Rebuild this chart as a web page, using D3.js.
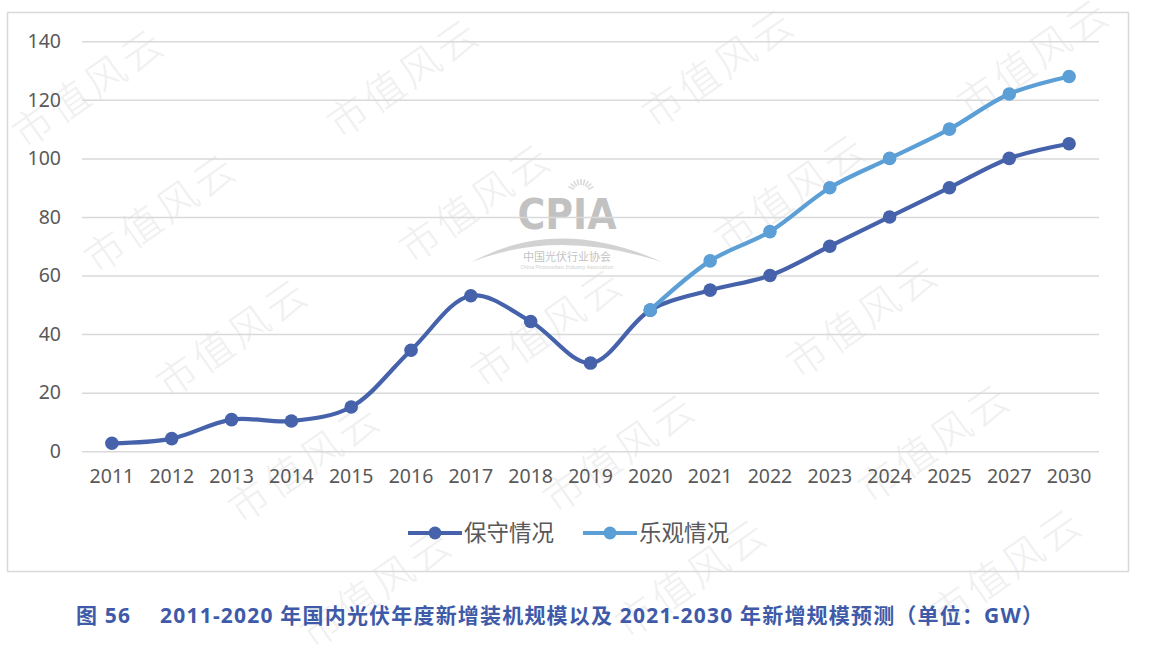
<!DOCTYPE html>
<html><head><meta charset="utf-8">
<script src="https://cdn.jsdelivr.net/npm/d3@7"></script>
<style>
html,body{margin:0;padding:0;background:#fff;}
svg{display:block;}
</style></head>
<body>
<svg id="chart" width="1153" height="654"></svg>
<script>
const years = ["2011","2012","2013","2014","2015","2016","2017","2018","2019","2020","2021","2022","2023","2024","2025","2027","2030"];
const conservative = [2.7,4.3,10.8,10.3,15.1,34.5,53.1,44.3,30.1,48.2,55,60,70,80,90,100,105];
const optimistic = [null,null,null,null,null,null,null,null,null,48.2,65,75,90,100,110,122,128];
const yTicks = [0,20,40,60,80,100,120,140];
const seriesNames = ["保守情况","乐观情况"];
const titleText = "图 56　 2011-2020 年国内光伏年度新增装机规模以及 2021-2030 年新增规模预测（单位：GW）";
const watermarkText = "市值风云";

const colors = ["#4562AB","#5B9FD6"];
const svg = d3.select("#chart");
const font = "'Noto Sans','Noto Sans CJK SC',sans-serif";
const cjk = "'Noto Sans CJK SC',sans-serif";

// watermark layer (only fully visible copies)
const wm = svg.append("g").attr("class","watermark");
for (let i=-2;i<5;i++){
  for (let j=-1;j<6;j++){
    const px = 25 + i*315 + j*72;
    const py = 150 - i*10 + j*125;
    if (px < 5 || px > 990 || py < 120 || py > 650) continue;
    wm.append("text").attr("x",px).attr("y",py)
      .attr("transform",`rotate(-35 ${px} ${py})`)
      .attr("font-family",cjk).attr("font-weight",300)
      .attr("font-size",40).attr("fill","#f0f0f0").attr("letter-spacing",4)
      .text(watermarkText);
  }
}

// chart frame
svg.append("rect").attr("x",7.5).attr("y",12.5).attr("width",1121).attr("height",559)
  .attr("fill","none").attr("stroke","#d9d9d9").attr("stroke-width",1.5);

const plotL = 82, plotR = 1099, plotT = 41.3, plotB = 451.2;
const x = d3.scaleBand().domain(years).range([plotL,plotR]).paddingInner(0).paddingOuter(0);
const y = d3.scaleLinear().domain([0,140]).range([plotB,plotT]);
const cx = d => x(d) + x.bandwidth()/2;

// CPIA logo (faint)
const logo = svg.append("g").attr("opacity",0.6);
const lx = 567;
for (let k=0;k<9;k++){
  const a = -Math.PI*(0.15 + k*0.0875);
  logo.append("line").attr("x1",lx+14+Math.cos(a)*8).attr("y1",193+Math.sin(a)*8)
    .attr("x2",lx+14+Math.cos(a)*14).attr("y2",193+Math.sin(a)*14)
    .attr("stroke","#bdbdbd").attr("stroke-width",1.5);
}
logo.append("text").attr("x",lx).attr("y",229).attr("text-anchor","middle")
  .attr("font-family","'DejaVu Sans Condensed','DejaVu Sans',sans-serif").attr("font-weight","bold")
  .attr("font-size",42).attr("fill","#9a9a9a").attr("textLength",99).attr("lengthAdjust","spacingAndGlyphs").text("CPIA");
logo.append("path").attr("d",`M${lx-95},262 Q${lx-10},215 ${lx+95},262 Q${lx-10},228 ${lx-95},262Z`)
  .attr("fill","#b5b5b5");
logo.append("text").attr("x",lx).attr("y",261).attr("text-anchor","middle")
  .attr("font-family",cjk).attr("font-size",11).attr("fill","#9a9a9a").text("中国光伏行业协会");
logo.append("text").attr("x",lx).attr("y",269).attr("text-anchor","middle")
  .attr("font-family",font).attr("font-size",5).attr("fill","#b0b0b0").text("China Photovoltaic Industry Association");

// y axis + gridlines
const yAxis = d3.axisLeft(y).tickValues(yTicks).tickSizeInner(-(plotR-plotL)).tickSizeOuter(0).tickPadding(21);
const gy = svg.append("g").attr("transform",`translate(${plotL},0)`).call(yAxis);
gy.select(".domain").remove();
gy.selectAll(".tick line").attr("stroke","#d9d9d9").attr("stroke-width",1.5);
gy.selectAll(".tick text").attr("font-family",font).attr("font-size",19.5).attr("fill","#595959");

// x axis
const xAxis = d3.axisBottom(x).tickSize(0).tickPadding(18);
const gx = svg.append("g").attr("transform",`translate(0,${plotB})`).call(xAxis);
gx.select(".domain").remove();
gx.selectAll(".tick text").attr("font-family",font).attr("font-size",19.5).attr("fill","#595959");

// lines
const line = d3.line().x(d=>cx(d.year)).y(d=>y(d.v)).curve(d3.curveCatmullRom.alpha(0.5));
const seriesData = [conservative, optimistic].map(arr => years.map((yr,i)=>({year:yr, v:arr[i]})));
seriesData.forEach((data,si)=>{
  const pts = data.filter(d=>d.v!=null);
  svg.append("path").datum(pts).attr("d",line).attr("fill","none")
    .attr("stroke",colors[si]).attr("stroke-width",4.2).attr("stroke-linejoin","round").attr("stroke-linecap","round");
  svg.append("g").selectAll("circle").data(pts).join("circle")
    .attr("cx",d=>cx(d.year)).attr("cy",d=>y(d.v)).attr("r",6.8).attr("fill",colors[si]);
});

// legend
const legendItems = [{x:408,name:seriesNames[0],c:colors[0]},{x:583,name:seriesNames[1],c:colors[1]}];
legendItems.forEach(it=>{
  const g = svg.append("g");
  g.append("line").attr("x1",it.x).attr("x2",it.x+54).attr("y1",533).attr("y2",533)
    .attr("stroke",it.c).attr("stroke-width",4.2);
  g.append("circle").attr("cx",it.x+27).attr("cy",533).attr("r",6.5).attr("fill",it.c);
  g.append("text").attr("x",it.x+56).attr("y",541).attr("font-family",cjk).attr("font-size",22.5)
    .attr("fill","#595959").text(it.name);
});

// title
svg.append("text").attr("x",76).attr("y",623).attr("font-family",font).attr("font-weight","bold")
  .attr("font-size",21).attr("fill","#3E5AA8")
  .attr("textLength",967).attr("lengthAdjust","spacing").text(titleText);
</script>
</body></html>
